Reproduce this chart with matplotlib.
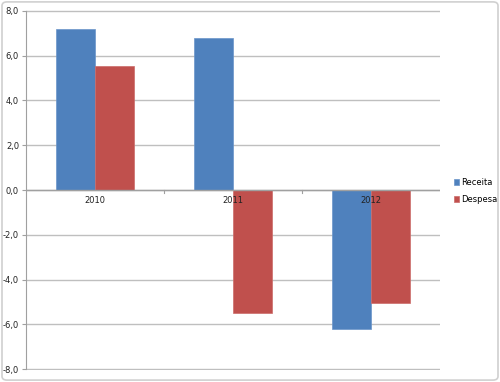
import matplotlib
matplotlib.use("Agg")
import matplotlib.pyplot as plt
from matplotlib.patches import FancyBboxPatch
import numpy as np

years = ["2010", "2011", "2012"]
receita = [7.2, 6.8, -6.22]
despesa = [5.55, -5.47, -5.02]
yticks = [-8, -6, -4, -2, 0, 2, 4, 6, 8]

blue = "#4F81BD"
red = "#C0504D"
grid_c = "#BFBFBF"

fig = plt.figure(figsize=(5.0, 3.82), dpi=100)
fig.patch.set_facecolor("white")
# outer chart frame
fig.patches.append(FancyBboxPatch((0.004, 0.005), 0.992, 0.99, boxstyle="round,pad=0,rounding_size=0.01",
                                  transform=fig.transFigure, facecolor="none", edgecolor="#D0D0D0", linewidth=1.2))

ax = fig.add_axes([0.052, 0.031, 0.828, 0.943])
x = np.arange(len(years))
w = 0.283
ax.bar(x - w / 2, receita, w, color=blue, edgecolor="#6A95C9", linewidth=0.5, label="Receita", zorder=3)
ax.bar(x + w / 2, despesa, w, color=red, edgecolor="#CC6C69", linewidth=0.5, label="Despesa", zorder=3)

ax.set_xlim(-0.5, 2.5)
ax.set_ylim(-8.04, 8.04)
ax.set_yticks(yticks)
ax.set_yticklabels([f"{v:.1f}".replace(".", ",") for v in yticks], fontsize=6, color="#222222")
ax.yaxis.grid(True, color=grid_c, linewidth=1.0, zorder=0)
ax.set_axisbelow(True)
for s in ["top", "right", "bottom"]:
    ax.spines[s].set_visible(False)
ax.spines["left"].set_color("#A0A0A0")
ax.spines["left"].set_bounds(-8, 8)
ax.tick_params(axis="y", length=3, color="#A0A0A0", pad=2)

# category axis drawn on the zero line
ax.axhline(0, color="#A0A0A0", linewidth=1.0, zorder=4)
ax.set_xticks([])
for b in [0.5, 1.5]:
    ax.plot([b, b], [0, -0.12], color="#A0A0A0", linewidth=0.8, zorder=4, clip_on=False)
for xi, lab in zip(x, years):
    ax.text(xi, -0.25, lab, ha="center", va="top", fontsize=6, color="#222222", zorder=5)

leg = fig.legend(loc="center left", bbox_to_anchor=(0.907, 0.5), frameon=False, fontsize=6,
                 handlelength=0.7, handleheight=0.7, handletextpad=0.25, labelspacing=1.0,
                 borderaxespad=0, borderpad=0)

fig.savefig("out.png", dpi=100)
